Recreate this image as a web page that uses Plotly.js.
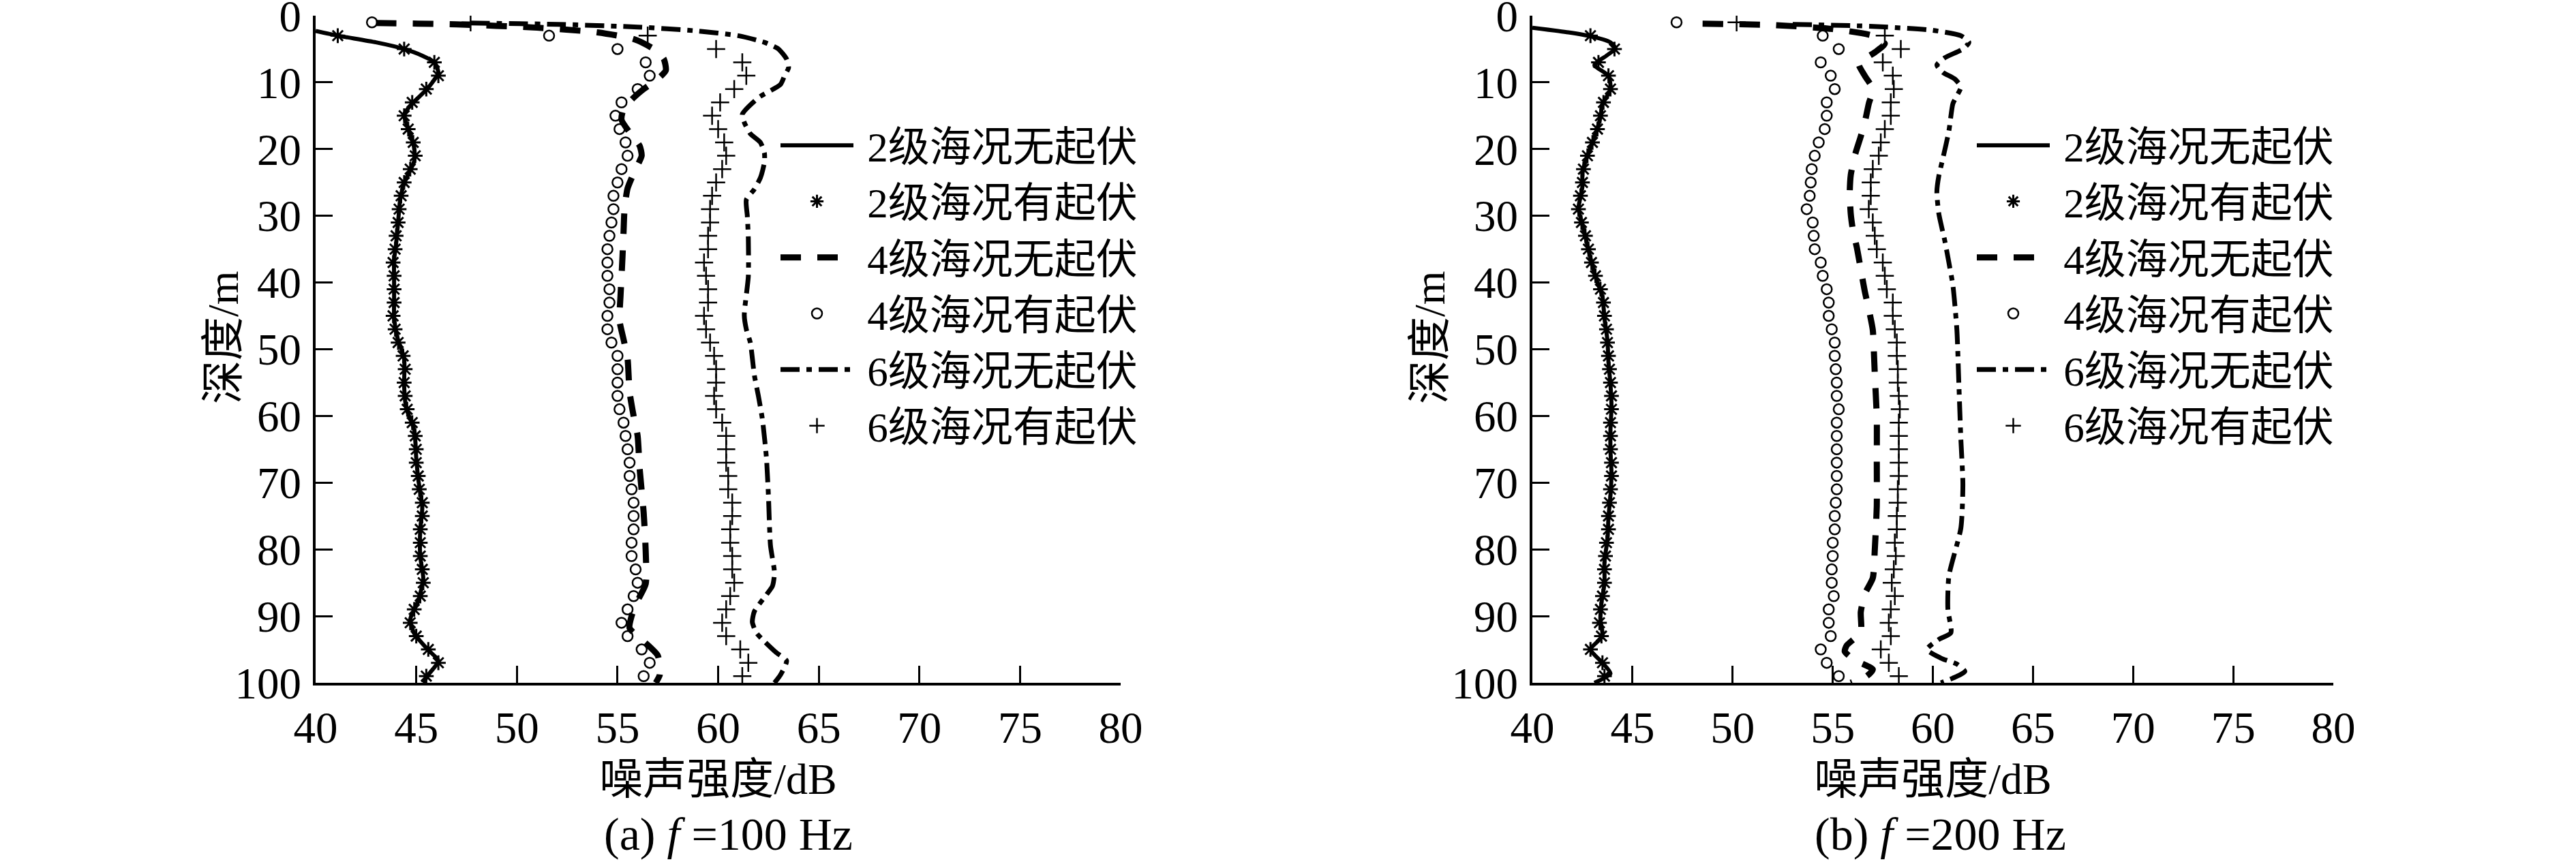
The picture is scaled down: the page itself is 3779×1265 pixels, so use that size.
<!DOCTYPE html>
<html>
<head>
<meta charset="utf-8">
<script src="https://cdn.plot.ly/plotly-3.0.1.min.js"></script>
<style>html,body{margin:0;padding:0;background:#fff;}</style>
</head>
<body>
<div id="chart" style="width:3779px;height:1265px;"></div>
<script>
// ---------- legend / series names ----------
const seriesNames = ['2级海况无起伏', '2级海况有起伏', '4级海况无起伏', '4级海况有起伏', '6级海况无起伏', '6级海况有起伏'];
const xTicks = [40, 45, 50, 55, 60, 65, 70, 75, 80];
const yTicks = [0, 10, 20, 30, 40, 50, 60, 70, 80, 90, 100];
const panelTitles = ['(a) <i>f</i> =100 Hz', '(b) <i>f</i> =200 Hz'];
const xTitle = '噪声强度/dB';
const yTitle = '深度/m';

// marker depths (m) for the "有起伏" series
const markerDepth = [1,3,5,7,9,11,13,15,17,19,21,23,25,27,29,31,33,35,37,39,41,43,45,47,49,51,53,55,57,59,61,63,65,67,69,71,73,75,77,79,81,83,85,87,89,91,93,95,97,99];
const markerDepthFrom3 = markerDepth.slice(1);

// ---------- (a) f = 100 Hz ----------
const a2LineDepth = [2.3,3,4,5,6,7,8.6,10,11.1,13.2,14.8,16.9,19.8,21.8,25.1,27.6,30.9,34.2,36.6,39.9,42.8,45.3,48.1,51.4,55.6,58.8,62.1,66.3,69.5,73.7,77.0,81.1,84.4,87.7,90.5,92.6,95.1,96.7,98.8,100];
const a2LineDb    = [40.0,41.1,43.0,44.4,45.3,45.9,46.1,45.8,45.5,44.8,44.4,44.6,44.9,44.9,44.4,44.2,44.1,44.0,43.9,43.9,43.9,43.9,44.05,44.4,44.4,44.5,44.9,45.0,45.1,45.3,45.2,45.2,45.35,45.1,44.7,44.9,45.6,46.1,45.6,45.35];
const a2MarkDb    = [41.1,44.4,45.9,46.1,45.5,44.8,44.4,44.6,44.85,44.95,44.7,44.4,44.25,44.15,44.1,44.0,43.95,43.85,43.9,43.9,43.9,43.85,43.95,44.1,44.35,44.45,44.4,44.45,44.55,44.8,44.95,45.0,45.0,45.1,45.15,45.3,45.3,45.2,45.2,45.2,45.3,45.35,45.2,44.9,44.7,45.0,45.6,46.1,45.5];

const a4LineDepth = [1.1,1.1,1.3,1.8,2.5,3.5,5.0,6.5,8.2,9.5,11.0,12.3,14.0,15.6,17.5,19.5,21.0,23.0,25.9,29,32.5,36,39.1,42,45.7,48.5,51.4,56.4,60,63,67.9,74.5,80.2,85.2,87.7,90,91.8,93.5,95.9,98.8,100];
const a4LineDb    = [43.0,43.0,47,51,54,55.8,56.8,57.3,57.4,57.0,56.3,55.8,55.3,55.2,55.6,56.1,56.2,55.9,55.5,55.35,55.3,55.25,55.2,55.15,55.1,55.3,55.5,55.6,55.8,56.0,56.1,56.3,56.4,56.4,56.0,55.7,55.6,56.2,57.0,57.1,56.9];
const a4MarkDb    = [42.8,51.6,55.0,56.4,56.6,56.0,55.2,54.9,55.1,55.4,55.5,55.2,55.0,54.8,54.8,54.7,54.6,54.5,54.5,54.5,54.6,54.6,54.5,54.5,54.7,55.0,55.0,55.0,55.0,55.1,55.3,55.4,55.5,55.6,55.6,55.7,55.8,55.8,55.8,55.7,55.7,55.9,56.0,55.8,55.5,55.2,55.5,56.2,56.6,56.3];

const a6LineDepth = [1.1,1.3,1.7,2.3,3.0,4.0,5.0,6.5,7.8,9.0,10.3,12.3,14.8,16,17.7,19,20.6,22,24.3,26,27.6,30,33.3,39.1,44.9,47,49,53.9,57,60.5,66.3,72,79.4,83.5,85.5,86.8,89.3,90.9,92.5,93.8,95.5,96.7,98.8,100];
const a6LineDb    = [47.7,52,56,59,61,62.3,63.0,63.4,63.5,63.3,63.1,62.0,61.2,61.3,61.6,62.1,62.3,62.3,62.1,61.8,61.4,61.45,61.5,61.5,61.3,61.4,61.6,61.8,62.0,62.2,62.4,62.5,62.6,62.8,62.7,62.4,61.8,61.7,61.9,62.3,62.9,63.4,63.1,62.8];
const a6MarkDb    = [47.7,56.5,59.9,61.2,61.4,60.8,60.1,59.7,60.0,60.3,60.4,60.2,59.9,59.7,59.6,59.6,59.5,59.5,59.3,59.4,59.5,59.5,59.3,59.4,59.6,59.8,59.9,59.9,59.8,59.9,60.2,60.4,60.4,60.4,60.5,60.5,60.7,60.7,60.6,60.6,60.7,60.7,60.8,60.6,60.4,60.2,60.4,61.1,61.5,61.2];

// ---------- (b) f = 200 Hz ----------
const b2LineDepth = [1.8,2.5,3.2,4.0,4.9,6.0,7.4,9.0,11.1,13.2,15.2,17.3,19.8,21.4,23.5,25.6,27.2,28.9,31.3,33.8,36.3,39.6,42.1,45.4,48.7,52,55.3,58.6,62,65.3,68.6,71.9,75.2,78.5,81.8,85.1,88,90.6,93,95,97,98.6,100];
const b2LineDb    = [40.0,41.8,43.1,43.9,44.15,43.7,43.1,43.8,43.9,43.5,43.4,43.2,42.9,42.7,42.5,42.5,42.4,42.3,42.5,42.7,42.9,43.2,43.5,43.6,43.75,43.8,43.9,43.95,43.9,43.9,43.95,43.9,43.8,43.75,43.6,43.6,43.45,43.4,43.5,42.9,43.5,43.9,43.1];
const b2MarkDb    = [42.9,44.1,43.3,43.8,43.9,43.55,43.4,43.25,43.0,42.75,42.55,42.5,42.4,42.3,42.45,42.65,42.8,42.95,43.15,43.4,43.55,43.6,43.7,43.75,43.8,43.85,43.9,43.95,43.95,43.9,43.9,43.9,43.95,43.95,43.9,43.85,43.8,43.8,43.7,43.65,43.6,43.6,43.5,43.4,43.35,43.45,42.9,43.5,43.6];

const b4LineDepth = [1.2,1.4,2.0,3.0,4.2,5.5,7.2,9.0,11.0,13.2,16,18.1,21,23.9,26.5,29.7,32,34.7,38,41.3,44,47.1,50,53.7,60.3,66.9,73.5,80.1,84.3,86.7,89.4,92.4,94.4,95.3,96.6,98.0,99.0,100];
const b4LineDb    = [48.5,52,55,57.0,57.6,57.1,56.3,56.6,57.0,56.8,56.6,56.4,56.1,55.9,55.85,55.9,56.0,56.2,56.4,56.6,56.8,57.0,57.05,57.1,57.2,57.2,57.2,57.1,57.0,56.6,56.4,56.4,55.7,55.6,56.1,57.0,56.7,55.9];
const b4MarkDb    = [47.2,54.5,55.3,54.4,54.9,55.1,54.7,54.7,54.6,54.3,54.1,53.95,53.9,53.85,53.7,54.0,54.05,54.1,54.4,54.5,54.7,54.8,54.8,54.95,55.1,55.1,55.15,55.2,55.2,55.3,55.2,55.2,55.2,55.2,55.2,55.2,55.15,55.1,55.1,55.0,55.0,54.95,54.95,55.05,54.8,54.8,54.9,54.4,54.7,55.3];

const b6LineDepth = [1.3,1.6,2.2,3.0,4.0,5.0,6.3,7.4,8.5,9.5,10.7,12,13.2,17.3,21.4,24,26.4,29.7,33.8,37,40.4,47.1,55.3,63.6,70.2,76.8,84,89,92.5,93.5,95.0,96.3,97.2,98.3,99.3,100];
const b6LineDb    = [53,57,60,61.4,61.8,61.5,60.6,60.2,60.5,61.1,61.4,61.2,61.0,60.8,60.5,60.3,60.2,60.3,60.6,60.8,61.0,61.2,61.3,61.4,61.5,61.4,60.8,60.75,60.9,60.3,59.7,60.4,61.2,61.6,61.0,60.4];
const b6MarkDb    = [50.2,57.6,58.4,57.5,58.0,58.05,57.9,57.9,57.6,57.4,57.3,57.0,56.9,56.9,56.8,57.0,57.1,57.2,57.5,57.6,57.7,58.0,58.0,58.1,58.2,58.2,58.25,58.25,58.3,58.35,58.3,58.3,58.3,58.3,58.3,58.25,58.25,58.2,58.2,58.1,58.15,58.05,57.95,58.1,57.9,57.8,57.9,57.4,57.8,58.3];

// ---------- styles ----------
const BLACK = '#000000';
const FONT = 'Liberation Serif, Times New Roman, Noto Sans CJK SC, serif';
const styles = [
  {mode:'lines', line:{color:BLACK, width:6, shape:'spline', smoothing:0.6}},
  {mode:'markers', marker:{symbol:'asterisk-open', size:18, color:BLACK, line:{color:BLACK, width:3}}},
  {mode:'lines', line:{color:BLACK, width:9, dash:'30px,24px', shape:'spline', smoothing:0.6}},
  {mode:'markers', marker:{symbol:'circle-open', size:15, color:BLACK, line:{color:BLACK, width:2.5}}},
  {mode:'lines', line:{color:BLACK, width:7, dash:'28px,10px,8px,10px', shape:'spline', smoothing:0.6}},
  {mode:'markers', marker:{symbol:'cross-thin-open', size:19, color:BLACK, line:{color:BLACK, width:2.5}}}
];

const GAP = '\u2005'; // small gap between legend sample and its text
function mk(idx, xs, ys, xa, ya, leg) {
  return Object.assign({type:'scatter', x:xs, y:ys, name:GAP + seriesNames[idx], xaxis:xa, yaxis:ya, legend:leg, cliponaxis:true}, JSON.parse(JSON.stringify(styles[idx])));
}

const traces = [
  mk(0, a2LineDb, a2LineDepth, 'x', 'y', 'legend'),
  mk(1, a2MarkDb, markerDepthFrom3, 'x', 'y', 'legend'),
  mk(2, a4LineDb, a4LineDepth, 'x', 'y', 'legend'),
  mk(3, a4MarkDb, markerDepth, 'x', 'y', 'legend'),
  mk(4, a6LineDb, a6LineDepth, 'x', 'y', 'legend'),
  mk(5, a6MarkDb, markerDepth, 'x', 'y', 'legend'),
  mk(0, b2LineDb, b2LineDepth, 'x2', 'y2', 'legend2'),
  mk(1, b2MarkDb, markerDepthFrom3, 'x2', 'y2', 'legend2'),
  mk(2, b4LineDb, b4LineDepth, 'x2', 'y2', 'legend2'),
  mk(3, b4MarkDb, markerDepth, 'x2', 'y2', 'legend2'),
  mk(4, b6LineDb, b6LineDepth, 'x2', 'y2', 'legend2'),
  mk(5, b6MarkDb, markerDepth, 'x2', 'y2', 'legend2')
];

const W = 3779, H = 1265;
const yDomain = [(H - 1002) / H, (H - 23) / H];

function xAxis(domain, anchor) {
  return {
    domain: domain, anchor: anchor, range: [40, 80], tickvals: xTicks, ticktext: xTicks.map(String),
    showgrid: false, zeroline: false, showline: true, linecolor: BLACK, linewidth: 4,
    ticks: 'inside', ticklen: 25, tickwidth: 3, tickcolor: BLACK, ticklabelstandoff: 6,
    ticklabeloverflow: 'allow',
    tickfont: {family: FONT, size: 65, color: BLACK},
    title: {text: xTitle, font: {family: FONT, size: 64, color: BLACK}, standoff: 18}
  };
}
function yAxis(anchor) {
  return {
    domain: yDomain, anchor: anchor, range: [100, 0], tickvals: yTicks, ticktext: yTicks.map(String),
    showgrid: false, zeroline: false, showline: true, linecolor: BLACK, linewidth: 4,
    ticks: 'inside', ticklen: 25, tickwidth: 3, tickcolor: BLACK, ticklabelstandoff: 4,
    ticklabeloverflow: 'allow',
    tickfont: {family: FONT, size: 65, color: BLACK}
  };
}

const legendCommon = {
  xanchor: 'left', yanchor: 'top', bgcolor: 'rgba(0,0,0,0)', borderwidth: 0,
  font: {family: FONT, size: 61, color: BLACK}, itemwidth: 107, tracegroupgap: 0
};

const annFont = {family: FONT, size: 64, color: BLACK};
const subFont = {family: FONT, size: 68, color: BLACK};
const layout = {
  width: W, height: H,
  margin: {l: 0, r: 0, t: 0, b: 0},
  paper_bgcolor: '#ffffff', plot_bgcolor: '#ffffff',
  showlegend: true,
  xaxis: xAxis([463 / W, 1644 / W], 'y'),
  yaxis: yAxis('x'),
  xaxis2: xAxis([2248 / W, 3423 / W], 'y2'),
  yaxis2: yAxis('x2'),
  legend: Object.assign({x: (1145 - 5) / W, y: 1 - 167 / H}, legendCommon),
  legend2: Object.assign({x: (2900 - 5) / W, y: 1 - 167 / H}, legendCommon),
  annotations: [
    {text: panelTitles[0], xref: 'paper', yref: 'paper', x: 1068 / W, y: 1 - 1224 / H, xanchor: 'center', yanchor: 'middle', showarrow: false, font: subFont},
    {text: panelTitles[1], xref: 'paper', yref: 'paper', x: 2846 / W, y: 1 - 1224 / H, xanchor: 'center', yanchor: 'middle', showarrow: false, font: subFont},
    {text: yTitle, xref: 'paper', yref: 'paper', x: 328 / W, y: 1 - 495 / H, xanchor: 'center', yanchor: 'middle', textangle: -90, showarrow: false, font: annFont},
    {text: yTitle, xref: 'paper', yref: 'paper', x: 2098 / W, y: 1 - 495 / H, xanchor: 'center', yanchor: 'middle', textangle: -90, showarrow: false, font: annFont}
  ]
};

Plotly.newPlot('chart', traces, layout, {staticPlot: true, displayModeBar: false});
</script>
</body>
</html>
